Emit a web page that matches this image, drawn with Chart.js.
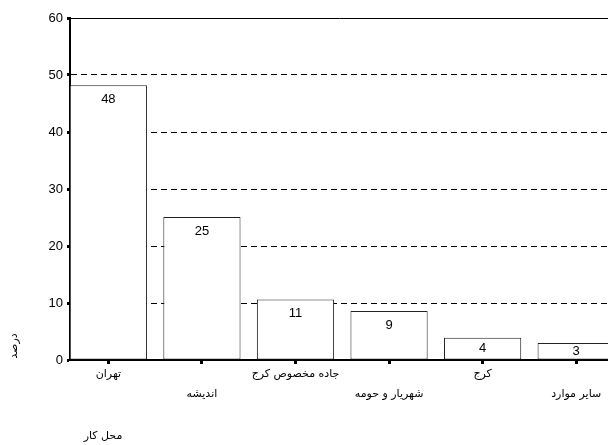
<!DOCTYPE html>
<html>
<head>
<meta charset="utf-8">
<script src="https://cdn.jsdelivr.net/npm/chart.js@4"></script>
<style>
html,body{margin:0;padding:0;background:#fff;}
#wrap{width:608px;height:445px;}
</style>
</head>
<body>
<div id="wrap"><canvas id="c" width="608" height="445"></canvas></div>
<script>
const categories = ['تهران', 'اندیشه', 'جاده مخصوص کرج', 'شهریار و حومه', 'کرج', 'سایر موارد'];
const percentValues = [48.2, 25.1, 10.6, 8.6, 3.9, 3.0];
const yTicks = [0, 10, 20, 30, 40, 50, 60];
const yTitle = 'درصد';
const xTitle = 'محل کار';

const valueLabels = {
  id: 'valueLabels',
  afterDatasetsDraw(chart) {
    const ctx = chart.ctx;
    const meta = chart.getDatasetMeta(0);
    ctx.save();
    ctx.font = '13px "Liberation Sans", Arial, sans-serif';
    ctx.fillStyle = '#000';
    ctx.textAlign = 'center';
    ctx.textBaseline = 'middle';
    meta.data.forEach((bar, i) => {
      const y = Math.min(bar.y + 14, (bar.y + bar.base) / 2);
      ctx.fillText(String(Math.round(percentValues[i])), bar.x, y);
    });
    ctx.restore();
  }
};

const titles = {
  id: 'titles',
  afterDraw(chart) {
    const ctx = chart.ctx;
    ctx.save();
    ctx.font = '11px "DejaVu Sans", sans-serif';
    ctx.fillStyle = '#000';
    ctx.textAlign = 'center';
    ctx.textBaseline = 'middle';
    ctx.translate(14, 346);
    ctx.rotate(-Math.PI / 2);
    ctx.fillText(yTitle, 0, 0);
    ctx.restore();
    ctx.save();
    ctx.font = '11px "DejaVu Sans", sans-serif';
    ctx.fillStyle = '#000';
    ctx.textAlign = 'center';
    ctx.textBaseline = 'middle';
    ctx.fillText(xTitle, 103, 436);
    ctx.restore();
  }
};

new Chart(document.getElementById('c'), {
  type: 'bar',
  data: {
    datasets: [{
      data: percentValues.map((v, i) => ({ x: i, y: v })),
      backgroundColor: '#ffffff',
      borderColor: '#222222',
      borderWidth: 1,
      borderSkipped: false,
      categoryPercentage: 1,
      barPercentage: 0.825
    }]
  },
  options: {
    responsive: false,
    animation: false,
    devicePixelRatio: 1,
    layout: { padding: { top: 18, right: 0, left: 0, bottom: 0 } },
    plugins: { legend: { display: false }, tooltip: { enabled: false } },
    scales: {
      x: {
        type: 'linear',
        offset: false,
        min: -0.41,
        max: 5.34,
        afterBuildTicks(scale) {
          scale.ticks = categories.map((_, i) => ({ value: i }));
        },
        afterFit(scale) { scale.height = 85; },
        grid: {
          offset: false,
          drawOnChartArea: false,
          drawTicks: true,
          tickLength: 4,
          tickWidth: 3,
          tickColor: '#000'
        },
        border: { display: true, color: '#000', width: 2 },
        ticks: {
          autoSkip: false,
          maxRotation: 0,
          minRotation: 0,
          padding: 0,
          color: '#000',
          font: { family: '"DejaVu Sans", sans-serif', size: 11, lineHeight: 1.82 },
          callback(value) {
            const i = Math.round(value);
            return i % 2 === 0 ? categories[i] : ['', categories[i]];
          }
        }
      },
      y: {
        min: 0,
        max: 60,
        afterBuildTicks(scale) {
          scale.ticks = yTicks.map(v => ({ value: v }));
        },
        afterFit(scale) { scale.width = 70; },
        grid: {
          color: '#000',
          lineWidth: 1,
          drawTicks: true,
          tickLength: 3,
          tickWidth: 3,
          tickColor: '#000',
          tickBorderDash: []
        },
        border: {
          display: true,
          color: '#000',
          width: 2,
          dash: (ctx) => (ctx.tick && ctx.tick.value === 60) ? [] : [6, 4]
        },
        ticks: {
          padding: 4,
          color: '#000',
          font: { family: '"Liberation Sans", Arial, sans-serif', size: 13 }
        }
      }
    }
  },
  plugins: [valueLabels, titles]
});
</script>
</body>
</html>
